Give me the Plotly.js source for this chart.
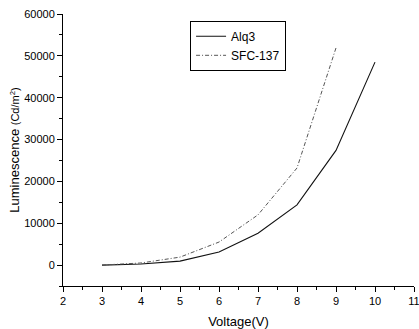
<!DOCTYPE html>
<html><head><meta charset="utf-8">
<script src="https://cdn.plot.ly/plotly-3.0.1.min.js"></script>
<style>body{margin:0;background:#fff}#c{width:419px;height:329px}</style>
</head><body><div id="c"></div>
<script>
const voltage = [3, 4, 5, 6, 7, 8, 9, 10];
const alq3 = [0, 250, 950, 3100, 7600, 14400, 27400, 48500];
const sfcVoltage = [3, 4, 5, 6, 7, 8, 9];
const sfc137 = [0, 500, 1900, 5500, 12000, 23200, 51900];
const xTicks = [2,3,4,5,6,7,8,9,10,11];
const yTicks = [0,10000,20000,30000,40000,50000,60000];

const traces = [
  {x: voltage, y: alq3, name: 'Alq3', mode: 'lines', line: {color: '#111', width: 1.1}},
  {x: sfcVoltage, y: sfc137, name: 'SFC-137', mode: 'lines', line: {color: '#555', width: 1, dash: '4px,2px,1px,2px'}}
];
const font = {family: 'Liberation Sans, Arial, sans-serif', color: '#000'};
const layout = {
  width: 419, height: 329,
  margin: {l: 63, r: 5, t: 14, b: 43},
  paper_bgcolor: '#fff', plot_bgcolor: '#fff',
  font: Object.assign({size: 11}, font),
  showlegend: true,
  legend: {x: 0.362, y: 0.975, xanchor: 'left', yanchor: 'top', bordercolor: '#000', borderwidth: 1,
           bgcolor: '#fff', font: Object.assign({size: 12}, font), tracegroupgap: 0, itemwidth: 30},
  xaxis: {range: [2, 11], tickvals: xTicks, ticktext: xTicks.map(String), showgrid: false, zeroline: false,
          showline: true, linecolor: '#000', linewidth: 1, ticks: 'outside', ticklen: 5, tickcolor: '#000',
          ticklabeloverflow: 'allow',
          minor: {dtick: 0.5, ticks: 'outside', ticklen: 3, tickcolor: '#000', showgrid: false},
          tickfont: Object.assign({size: 11}, font),
          title: {text: 'Voltage(V)', font: Object.assign({size: 13}, font)}},
  yaxis: {range: [-5000, 60000], tickvals: yTicks, ticktext: yTicks.map(String), showgrid: false, zeroline: false,
          showline: true, linecolor: '#000', linewidth: 1, ticks: 'outside', ticklen: 5, tickcolor: '#000',
          automargin: true,
          minor: {dtick: 5000, ticks: 'outside', ticklen: 3, tickcolor: '#000', showgrid: false},
          tickfont: Object.assign({size: 11}, font),
          title: {text: 'Luminescence <span style="font-size:11px">(Cd/m<sup>2</sup>)</span>', font: Object.assign({size: 13}, font), standoff: 1}}
};
Plotly.newPlot('c', traces, layout, {displayModeBar: false, staticPlot: true});
</script></body></html>
